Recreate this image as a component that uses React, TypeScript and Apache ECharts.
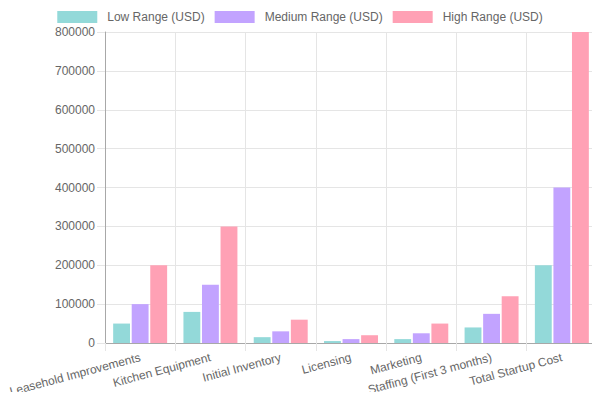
import React, { useEffect, useRef } from "react";
import * as echarts from "echarts";

const categories = [
  "Leasehold Improvements",
  "Kitchen Equipment",
  "Initial Inventory",
  "Licensing",
  "Marketing",
  "Staffing (First 3 months)",
  "Total Startup Cost",
];

const lowRange = [50000, 80000, 15000, 5000, 10000, 40000, 200000];
const mediumRange = [100000, 150000, 30000, 10000, 25000, 75000, 400000];
const highRange = [200000, 300000, 60000, 20000, 50000, 120000, 800000];

const seriesNames = ["Low Range (USD)", "Medium Range (USD)", "High Range (USD)"];
const seriesColors = ["#93d9d9", "#c2a3ff", "#ffa1b5"];

const FONT = "Liberation Sans, Arial, Helvetica, sans-serif";
const TEXT = "#666666";
const GRID = "#e5e5e5";
const AXIS = "#a8a8a8";

export default function App() {
  const ref = useRef<HTMLDivElement>(null);

  useEffect(() => {
    if (!ref.current) return;
    const chart = echarts.init(ref.current, undefined, { renderer: "svg" });
    const values = [lowRange, mediumRange, highRange];
    chart.setOption({
      animation: false,
      backgroundColor: "#ffffff",
      textStyle: { fontFamily: FONT },
      legend: {
        top: 11,
        left: "center",
        padding: 0,
        itemWidth: 40,
        itemHeight: 12,
        itemGap: 10,
        icon: "rect",
        textStyle: {
          color: TEXT,
          fontSize: 12,
          fontFamily: FONT,
          padding: [0, 0, 0, 5],
        },
        data: seriesNames,
      },
      grid: { left: 105, right: 3, top: 32, bottom: 57, containLabel: false },
      xAxis: {
        type: "category",
        data: categories,
        boundaryGap: true,
        axisLine: { show: true, lineStyle: { color: AXIS, width: 1 } },
        axisTick: { show: true, length: 8, lineStyle: { color: GRID } },
        splitLine: { show: true, lineStyle: { color: GRID, width: 1 } },
        axisLabel: {
          interval: 0,
          rotate: 15,
          margin: 14,
          color: TEXT,
          fontSize: 12,
          fontFamily: FONT,
        },
      },
      yAxis: {
        type: "value",
        min: 0,
        max: 800000,
        interval: 100000,
        axisLine: { show: true, lineStyle: { color: AXIS, width: 1 } },
        axisTick: { show: true, length: 8, lineStyle: { color: GRID } },
        splitLine: { show: true, lineStyle: { color: GRID, width: 1 } },
        axisLabel: {
          margin: 10,
          color: TEXT,
          fontSize: 12,
          fontFamily: FONT,
          formatter: (v: number) => String(v),
        },
      },
      series: seriesNames.map((name, i) => ({
        name,
        type: "bar",
        data: values[i],
        barWidth: "24%",
        barGap: "10%",
        itemStyle: { color: seriesColors[i] },
      })),
    });
    return () => chart.dispose();
  }, []);

  return <div ref={ref} style={{ width: 600, height: 400, margin: -8 }} />;
}
